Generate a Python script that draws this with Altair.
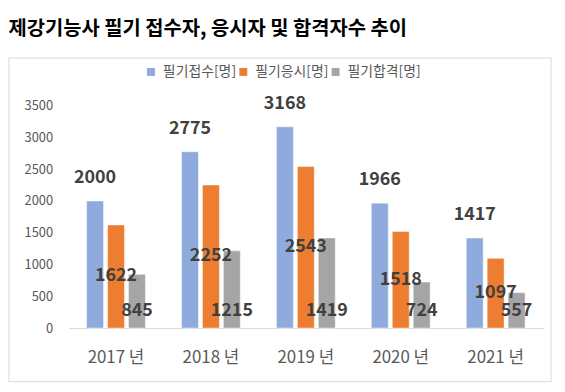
import altair as alt
import pandas as pd

years = ["2017", "2018", "2019", "2020", "2021"]
series = ["필기접수[명]", "필기응시[명]", "필기합격[명]"]
applied = [2000, 2775, 3168, 1966, 1417]
taken = [1622, 2252, 2543, 1518, 1097]
passed = [845, 1215, 1419, 724, 557]
colors = ["#8FAADC", "#ED7D31", "#A5A5A5"]
y_ticks = [0, 500, 1000, 1500, 2000, 2500, 3000, 3500]

rows = []
for i, yr in enumerate(years):
    for s, vals in zip(series, [applied, taken, passed]):
        rows.append({"year": yr + " 년", "series": s, "value": vals[i]})
df = pd.DataFrame(rows)
year_labels = [yr + " 년" for yr in years]

W, H = 478, 224
font = "Noto Sans CJK KR"
label_color = "#404040"

x = alt.X("year:N", sort=year_labels,
          scale=alt.Scale(paddingInner=0.38, paddingOuter=0.19),
          axis=alt.Axis(title=None, labelAngle=0, ticks=False, labelPadding=22,
                        labelFontSize=17, labelColor="#595959",
                        domainColor="#d9d9d9", domainWidth=1))
xo = alt.XOffset("series:N", sort=series,
                 scale=alt.Scale(domain=series, paddingInner=0.19, paddingOuter=0))
y_scale = alt.Scale(domain=[0, 3500])
y_axis = alt.Axis(title=None, values=y_ticks, format="d", labelOverlap=False,
                  grid=False, domain=False,
                  ticks=False, labelPadding=16, labelFontSize=13,
                  labelColor="#595959")
y = alt.Y("value:Q", scale=y_scale, axis=y_axis)
color = alt.Color("series:N", sort=series,
                  scale=alt.Scale(domain=series, range=colors),
                  legend=alt.Legend(title=None, orient="none", legendX=76, legendY=-41,
                                    direction="horizontal", symbolType="square",
                                    symbolSize=64, symbolStrokeWidth=0,
                                    labelFontSize=14, labelColor="#595959",
                                    labelFont=font, columnPadding=0, labelOffset=5))

base = alt.Chart(df)

bars = base.mark_bar(stroke="white", strokeWidth=0.8, strokeOpacity=0.6).encode(
    x=x, xOffset=xo, y=y, color=color)

txt = dict(fontSize=18, fontWeight="bold", color=label_color, font=font)

top_labels = base.transform_filter(alt.datum.series == series[0]).mark_text(
    baseline="bottom", dy=-14, **txt).encode(
    x=x, xOffset=xo, y=y, text="value:Q")

mid_labels = base.transform_filter(alt.datum.series == series[1]).transform_calculate(
    mid="datum.value / 2").mark_text(baseline="middle", **txt).encode(
    x=x, xOffset=xo, y=alt.Y("mid:Q", scale=y_scale, axis=y_axis), text="value:Q")

low_labels = base.transform_filter(alt.datum.series == series[2]).mark_text(
    baseline="middle", dy=-17, **txt).encode(
    x=x, xOffset=xo, y=alt.Y(datum=0, scale=y_scale, axis=y_axis), text="value:Q")

frame = alt.Chart(pd.DataFrame({"a": [0]})).mark_rect(
    fill="transparent", stroke="#d9d9d9", strokeWidth=1).encode(
    x=alt.value(-60), x2=alt.value(486), y=alt.value(-48), y2=alt.value(H + 54))

chart = alt.layer(frame, bars, top_labels, mid_labels, low_labels).properties(
    width=W, height=H,
    padding={"left": 0, "top": 9, "right": 5, "bottom": 5},
    title=alt.TitleParams("제강기능사 필기 접수자, 응시자 및 합격자수 추이",
                          anchor="start", frame="bounds", fontSize=20,
                          fontWeight="bold", font=font, color="#000000", offset=19),
).configure_view(strokeWidth=0).configure_axis(labelFont=font)

chart.save("out.html", embed_options={"renderer": "svg", "actions": False})
